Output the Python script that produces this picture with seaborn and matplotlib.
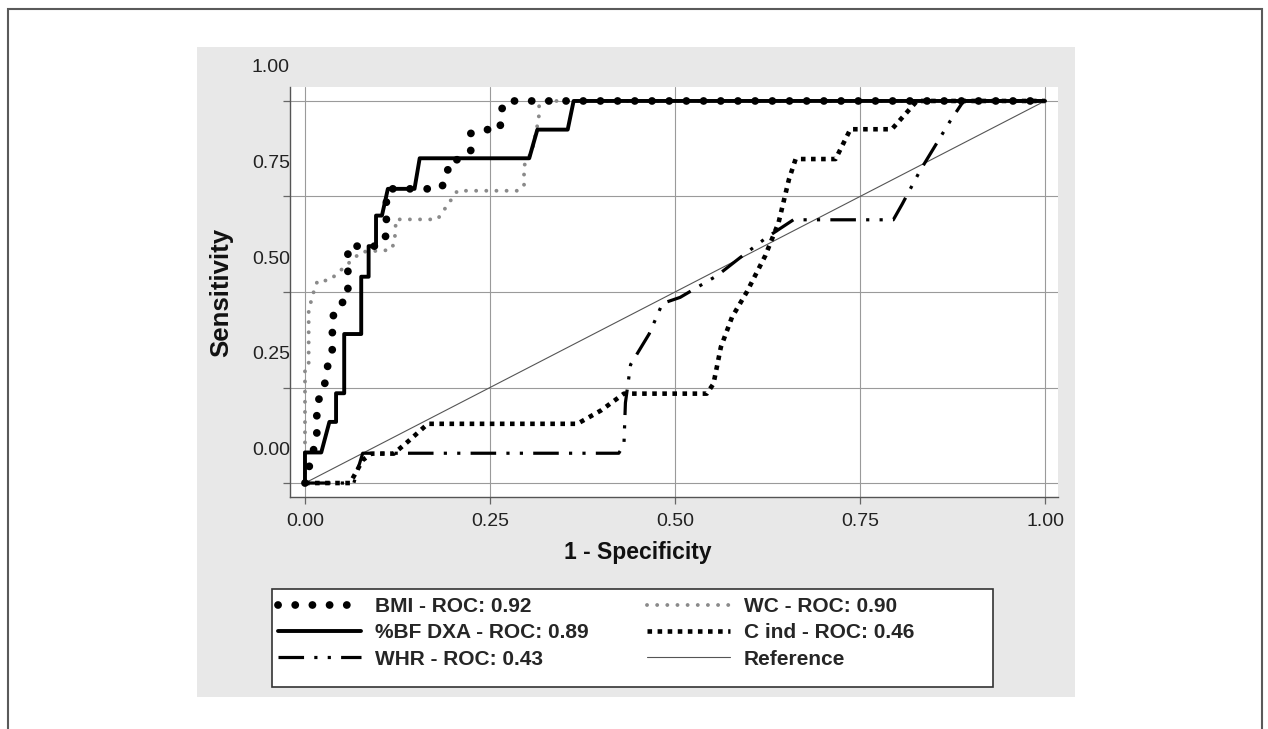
import numpy as np
import pandas as pd
import seaborn as sns
import matplotlib.pyplot as plt
from matplotlib.patches import Rectangle
from matplotlib.transforms import ScaledTranslation

# ROC curve vertices (1 - specificity, sensitivity)
bmi_x = [0, 0.016, 0.016, 0.025, 0.031, 0.037, 0.037, 0.043, 0.058, 0.058, 0.102, 0.110,
         0.110, 0.114, 0.183, 0.193, 0.193, 0.213, 0.224, 0.224, 0.241, 0.264, 0.264, 0.271, 1.0]
bmi_y = [0, 0.12, 0.21, 0.24, 0.31, 0.35, 0.43, 0.465, 0.48, 0.62, 0.62, 0.65,
         0.74, 0.77, 0.77, 0.80, 0.84, 0.85, 0.87, 0.915, 0.925, 0.925, 0.97, 1.0, 1.0]

pbf_x = [0, 0, 0.022, 0.033, 0.042, 0.042, 0.053, 0.053, 0.076, 0.076, 0.086, 0.086,
         0.096, 0.096, 0.104, 0.112, 0.148, 0.155, 0.303, 0.314, 0.355, 0.363, 1.0]
pbf_y = [0, 0.08, 0.08, 0.16, 0.16, 0.235, 0.235, 0.39, 0.39, 0.54, 0.54, 0.62,
         0.62, 0.70, 0.70, 0.77, 0.77, 0.85, 0.85, 0.925, 0.925, 1.0, 1.0]

whr_x = [0, 0.066, 0.072, 0.078, 0.424, 0.431, 0.433, 0.44, 0.465, 0.483, 0.507,
         0.557, 0.588, 0.624, 0.66, 0.795, 0.807, 0.831, 0.872, 0.89, 1.0]
whr_y = [0, 0, 0.04, 0.078, 0.078, 0.10, 0.21, 0.31, 0.39, 0.47, 0.486,
         0.543, 0.59, 0.643, 0.689, 0.689, 0.73, 0.817, 0.948, 1.0, 1.0]

wc_x = [0, 0, 0.005, 0.005, 0.010, 0.017, 0.033, 0.053, 0.076, 0.116, 0.121, 0.123,
        0.179, 0.206, 0.289, 0.296, 0.296, 0.307, 0.316, 0.316, 0.321, 1.0]
wc_y = [0, 0.30, 0.31, 0.45, 0.49, 0.53, 0.53, 0.565, 0.605, 0.61, 0.63, 0.69,
        0.69, 0.765, 0.765, 0.78, 0.83, 0.87, 0.955, 0.985, 1.0, 1.0]

cind_x = [0, 0.061, 0.078, 0.09, 0.12, 0.14, 0.166, 0.368, 0.40, 0.431, 0.543, 0.552,
          0.562, 0.577, 0.597, 0.622, 0.64, 0.654, 0.663, 0.717, 0.737, 0.793, 0.827, 1.0]
cind_y = [0, 0, 0.06, 0.077, 0.077, 0.11, 0.155, 0.155, 0.19, 0.234, 0.234, 0.26,
          0.356, 0.434, 0.50, 0.595, 0.682, 0.795, 0.848, 0.848, 0.926, 0.926, 1.0, 1.0]

ref_x = [0, 1]
ref_y = [0, 1]

labels = ["BMI - ROC: 0.92", "%BF DXA - ROC: 0.89", "WHR - ROC: 0.43",
          "WC - ROC: 0.90", "C ind - ROC: 0.46", "Reference"]
ticks = [0, 0.25, 0.5, 0.75, 1.0]
tick_labels = ["0.00", "0.25", "0.50", "0.75", "1.00"]

sns.set_theme(style="white")
plt.rcParams["font.family"] = ["Liberation Sans", "DejaVu Sans"]

W, H = 1268, 729
fig = plt.figure(figsize=(W / 100, H / 100), dpi=100)

# outer frame and grey plot region
fig.patches.append(Rectangle((8 / W, -0.1), 1254 / W, 1.1 - 9 / H, fill=False,
                             edgecolor="#5a5a5a", lw=1.5, transform=fig.transFigure, zorder=-1))
fig.patches.append(Rectangle((197 / W, 1 - 697 / H), 878 / W, 650 / H, facecolor="#e8e8e8",
                             edgecolor="none", transform=fig.transFigure, zorder=-2))

ax = fig.add_axes([290 / W, 1 - 497 / H, 768 / W, 410 / H])
ax.set_facecolor("white")

series = [
    (bmi_x, bmi_y, dict(color="black", lw=5.6, ls=(0, (0.01, 2.2)), dash_capstyle="round")),
    (pbf_x, pbf_y, dict(color="black", lw=2.8, ls="-")),
    (whr_x, whr_y, dict(color="black", lw=2.3, ls=(0, (8.0, 3.2, 1, 3.2, 1, 3.2)))),
    (wc_x, wc_y, dict(color="#8a8a8a", lw=2.8, ls=(0, (0.01, 2.6)), dash_capstyle="round")),
    (cind_x, cind_y, dict(color="black", lw=3.3, ls=(0, (1, 1.2)))),
    (ref_x, ref_y, dict(color="#555555", lw=0.8, ls="-")),
]
order = [5, 4, 2, 3, 0, 1]
for i in order:
    x, y, kw = series[i]
    df = pd.DataFrame({"x": x, "y": y})
    sns.lineplot(data=df, x="x", y="y", sort=False, estimator=None, ax=ax,
                 label=labels[i], **kw)
if ax.get_legend() is not None:
    ax.get_legend().remove()

ax.set_xlim(-15 / 741, 1 + 13 / 741)
ax.set_ylim(-14 / 383, 1 + 14 / 383)
ax.set_xticks(ticks)
ax.set_xticklabels(tick_labels)
ax.set_yticks(ticks)
ax.set_yticklabels(tick_labels)
ax.grid(True, color="#9a9a9a", lw=0.8)
ax.set_axisbelow(True)
for s in ["top", "right"]:
    ax.spines[s].set_visible(False)
for s in ["left", "bottom"]:
    ax.spines[s].set_color("#555555")
    ax.spines[s].set_linewidth(1.0)
ax.tick_params(axis="both", length=5, width=0.9, color="#666666", labelsize=14,
               labelcolor="#222222", left=True, bottom=True)
ax.tick_params(axis="x", pad=6.5)
ax.tick_params(axis="y", pad=3.5)

# y tick labels sit above their grid lines in the original
for lab in ax.get_yticklabels():
    lab.set_transform(lab.get_transform() + ScaledTranslation(0.118, 0.35, fig.dpi_scale_trans))

ax.set_xlabel("1 - Specificity", fontsize=16.5, fontweight="bold", color="#111111")
ax.set_ylabel("Sensitivity", fontsize=18.5, fontweight="bold", color="#111111")
ax.xaxis.label.set_va("center")
ax.yaxis.label.set_va("center")
ax.xaxis.set_label_coords((638 - 290) / 768, (497 - 552) / 410)
ax.yaxis.set_label_coords((221 - 290) / 768, (497 - 292) / 410)

# legend box
fig.patches.append(Rectangle((272 / W, 1 - 687 / H), 721 / W, 98 / H, facecolor="white",
                             edgecolor="#333333", lw=1.2, transform=fig.transFigure, zorder=1))
h, l = ax.get_legend_handles_labels()
hmap = dict(zip(l, h))
fig.legend([hmap[k] for k in labels], labels, ncol=2, loc="upper left",
           bbox_to_anchor=(278 / W, 1 - 597 / H), frameon=False, borderpad=0,
           borderaxespad=0, handlelength=4.0, handletextpad=0.65, columnspacing=2.8,
           labelspacing=0.35, prop={"weight": "bold", "size": 15})

fig.savefig("out.png", dpi=100)
